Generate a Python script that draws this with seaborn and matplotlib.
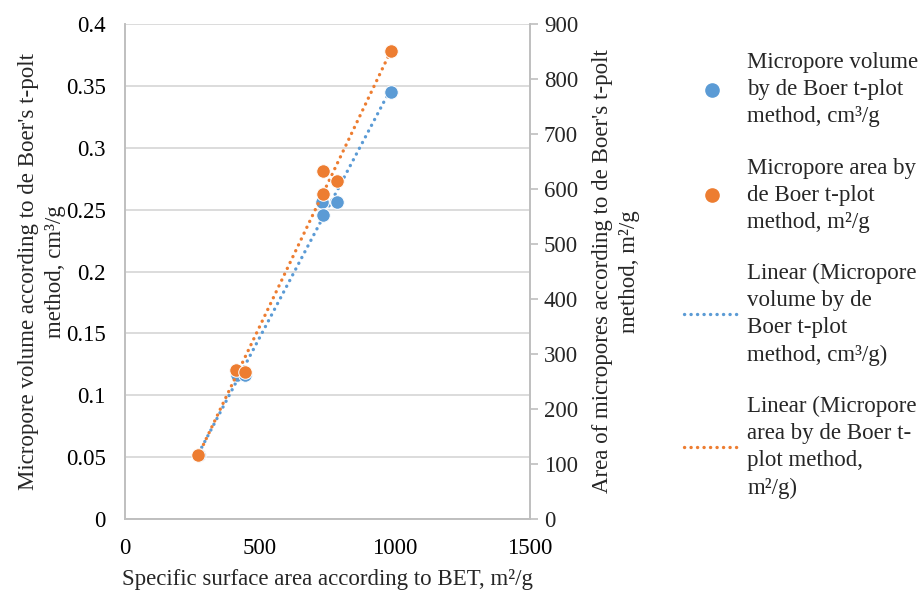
import numpy as np
import pandas as pd
import matplotlib
matplotlib.use("Agg")
import matplotlib.pyplot as plt
import seaborn as sns
from matplotlib.lines import Line2D

# Data
bet_vol = [273, 413, 443, 730, 733, 785, 985]
volume = [0.052, 0.116, 0.116, 0.256, 0.246, 0.256, 0.345]
bet_area = [270, 410, 443, 733, 733, 785, 985]
area = [117, 271, 268, 633, 591, 614, 851]

lbl_vol = "Micropore volume\nby de Boer t-plot\nmethod, cm³/g"
lbl_area = "Micropore area by\nde Boer t-plot\nmethod, m²/g"
lbl_lin_vol = "Linear (Micropore\nvolume by de\nBoer t-plot\nmethod, cm³/g)"
lbl_lin_area = "Linear (Micropore\narea by de Boer t-\nplot method,\nm²/g)"

xlabel = "Specific surface area according to BET, m²/g"
ylabel_l = "Micropore volume according to de Boer's t-polt\nmethod, cm³/g"
ylabel_r = "Area of micropores according to de Boer's t-polt\nmethod, m²/g"

BLUE = "#5B9BD5"
ORANGE = "#ED7D31"
GRID = "#D9D9D9"
SP = "#BFBFBF"

sns.set_style("white")
plt.rcParams["font.family"] = ["Liberation Serif", "DejaVu Serif"]
FS = 16.5
DOT = (0, (0.05, 1.9))
LW = 2.4

df_v = pd.DataFrame({"x": bet_vol, "y": volume})
df_a = pd.DataFrame({"x": bet_area, "y": area})

fig = plt.figure(figsize=(9.21, 5.92), dpi=100)
ax = fig.add_axes([125/921, 1-519/592, (530-125)/921, (519-24)/592])
ax2 = ax.twinx()

sns.regplot(data=df_v, x="x", y="y", ax=ax, ci=None, scatter=False,
            line_kws=dict(color=BLUE, ls=DOT, lw=LW, dash_capstyle="round"), truncate=True)
sns.scatterplot(data=df_v, x="x", y="y", ax=ax, color=BLUE, s=95,
                edgecolor="white", linewidth=0.7, zorder=5)
sns.regplot(data=df_a, x="x", y="y", ax=ax2, ci=None, scatter=False,
            line_kws=dict(color=ORANGE, ls=DOT, lw=LW, dash_capstyle="round"), truncate=True)
sns.scatterplot(data=df_a, x="x", y="y", ax=ax2, color=ORANGE, s=95,
                edgecolor="white", linewidth=0.7, zorder=5)

ax.set_xlim(0, 1500)
ax.set_ylim(0, 0.4)
ax2.set_ylim(0, 900)
ax.set_xticks([0, 500, 1000, 1500])
ax.set_yticks(np.arange(0, 0.401, 0.05))
ax.set_yticklabels(["0", "0.05", "0.1", "0.15", "0.2", "0.25", "0.3", "0.35", "0.4"])
ax2.set_yticks(np.arange(0, 901, 100))

ax.yaxis.grid(True, color=GRID, lw=1.3)
ax.set_axisbelow(True)

for a in (ax, ax2):
    a.spines["top"].set_visible(False)
    for s in ("left", "right", "bottom"):
        a.spines[s].set_color(SP)
        a.spines[s].set_linewidth(1.2)
ax.tick_params(axis="y", labelsize=FS, length=0, colors="black", pad=14)
ax.tick_params(axis="x", labelsize=FS, length=0, colors="black", pad=14)
ax2.tick_params(axis="y", labelsize=FS, length=6, direction="out", color=SP, width=1.2, pad=4)

ax.set_xlabel(xlabel, fontsize=FS, labelpad=7)
ax.set_ylabel(ylabel_l, fontsize=FS, labelpad=0, linespacing=1.35)
ax2.set_ylabel(ylabel_r, fontsize=FS, labelpad=10, linespacing=1.35)

handles = [
    Line2D([], [], ls="", marker="o", color=BLUE, markersize=9.5),
    Line2D([], [], ls="", marker="o", color=ORANGE, markersize=9.5),
    Line2D([], [], color=BLUE, ls=DOT, lw=LW, dash_capstyle="round"),
    Line2D([], [], color=ORANGE, ls=DOT, lw=LW, dash_capstyle="round"),
]
leg = fig.legend(handles, [lbl_vol, lbl_area, lbl_lin_vol, lbl_lin_area],
                 loc="upper left", bbox_to_anchor=(675/921, 1-43/592),
                 frameon=False, fontsize=FS, labelspacing=1.32, handlelength=2.4,
                 handletextpad=0.35, borderaxespad=0)
for t in leg.get_texts():
    t.set_linespacing(1.38)

fig.savefig("out.png", dpi=100)
